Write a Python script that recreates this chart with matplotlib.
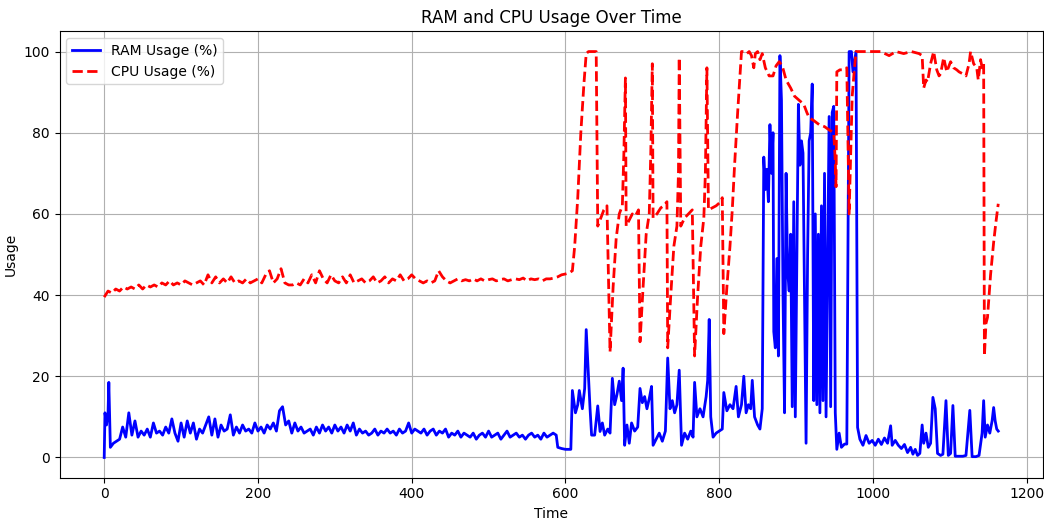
import numpy as np
import matplotlib
matplotlib.use("Agg")
import matplotlib.pyplot as plt

# RAM usage (%) - steady part, one sample every 4 s starting at t=12
ram_head_time = [0, 1, 3, 5, 6, 8]
ram_head = [0.0, 11.0, 8.0, 11.0, 18.5, 2.5]

ram_steady = [
    3.5, 4.0, 4.5, 7.5, 5.0, 11.0, 5.5, 9.0, 5.0, 6.5, 5.5, 7.0, 5.0, 8.5, 6.0,
    6.5, 5.5, 7.5, 6.0, 9.5, 6.0, 4.0, 8.5,
    5.0, 9.0, 6.0, 8.5, 4.5, 7.0, 6.0, 8.0, 10.0, 5.5, 9.5, 5.0, 8.0, 6.5, 7.0,
    10.5, 5.5, 7.5, 6.0, 8.0, 6.5, 7.0, 6.0, 8.5, 6.5, 7.5, 6.0, 8.0, 7.0, 8.5,
    6.5, 11.5, 12.5, 8.0, 9.0, 6.0, 8.5, 6.5, 7.5, 6.0, 6.5, 7.0, 5.5, 7.5, 6.0,
    8.0, 6.5, 7.5, 6.0, 8.0,
    6.5, 7.5, 6.0, 8.0, 6.5, 8.5, 5.5, 7.0, 6.0, 6.5, 5.5, 6.0, 7.0, 5.5, 6.5,
    6.0, 7.0, 6.0, 6.5, 5.5, 7.0, 6.0, 6.5, 8.5, 6.0, 7.0, 6.5, 6.0, 7.0, 5.5,
    6.5, 7.0, 5.5, 6.5, 6.0, 7.0, 5.0, 6.0, 5.5, 6.5, 5.0, 6.0, 5.5, 5.0, 6.0,
    4.5, 5.5, 6.0, 5.0, 6.5, 5.0, 5.5, 6.0, 4.5, 5.5, 6.5, 5.0, 5.5, 6.0, 5.0,
    5.5, 4.5, 5.5, 6.0, 5.0, 5.5, 4.5, 6.0, 5.0, 5.5, 6.0, 5.5,
]

# RAM usage (%) - busy part
ram_busy_time = [
    590, 595, 600, 607, 609, 613, 616, 618, 622, 625, 627, 630, 632, 634, 638,
    640, 642, 645, 648, 651, 655, 658, 661, 664, 667, 670, 673, 675, 677, 680,
    683, 686, 690, 694, 697, 700, 703, 706, 709, 712, 714, 718, 722, 726, 730,
    733, 736, 739, 742, 745, 748, 751, 755, 759, 763, 766, 768, 771, 775, 779,
    783, 785, 787, 789, 792, 796, 800, 804, 806, 810, 814, 818, 822, 825, 829,
    832, 835, 838, 841, 843, 846, 850, 853, 856, 858, 860, 862, 864, 866, 868,
    870, 871, 873, 875, 877, 879, 881, 883, 885, 887, 889, 891, 893, 895, 897,
    899, 901, 903, 905, 907, 909, 911, 913, 915, 917, 919, 921, 923, 925, 927,
    929, 931, 933, 935, 937, 939, 941, 943, 945, 947, 949, 951, 953, 956, 959,
    963, 966, 969, 972, 974, 978, 980, 983,
]
ram_busy = [
    2.5, 2.2, 2.0, 2.0, 16.5, 11.0, 13.0, 16.5, 12.0, 17.0, 31.5, 19.5, 12.0, 5.5, 5.5,
    9.0, 12.7, 6.4, 8.5, 5.5, 7.0, 6.0, 19.5, 13.0, 15.5, 18.8, 14.0, 22.0, 3.0, 8.0,
    3.5, 8.5, 6.5, 7.5, 17.0, 13.5, 15.0, 12.0, 14.5, 17.5, 3.0, 4.5, 6.0, 4.0, 6.5,
    24.5, 12.0, 14.0, 11.0, 13.0, 21.5, 3.0, 6.0, 4.5, 6.5, 5.0, 18.5, 10.0, 12.0, 10.0,
    15.0, 19.0, 34.0, 10.0, 5.0, 6.0, 6.5, 7.0, 16.0, 11.5, 13.0, 12.0, 17.5, 10.0, 13.0,
    20.0, 11.0, 13.0, 12.0, 19.0, 10.0, 8.0, 7.0, 12.0, 74.0, 66.0, 71.0, 63.0, 82.0, 70.0,
    80.0, 31.0, 27.0, 49.0, 25.0, 99.0, 88.0, 40.0, 11.0, 70.0, 46.0, 41.0, 55.0, 12.5, 63.0,
    10.0, 48.0, 87.0, 72.0, 78.0, 75.0, 40.0, 3.5, 50.0, 78.0, 80.0, 92.0, 14.0, 60.0, 13.0,
    55.0, 11.0, 62.0, 14.0, 70.0, 10.0, 48.0, 84.0, 12.5, 85.0, 86.5, 11.0, 2.0, 6.0, 2.5,
    3.3, 3.3, 100.0, 100.0, 95.0, 100.0, 7.4, 4.5,
]

# RAM usage (%) - tail
ram_tail_time = [
    987, 991, 995, 999, 1003, 1007, 1011, 1015, 1019, 1023, 1025, 1029, 1033,
    1037, 1041, 1045, 1049, 1052, 1055, 1058, 1061, 1064, 1066, 1069, 1072,
    1075, 1078, 1081, 1084, 1088, 1091, 1095, 1098, 1101, 1104, 1107, 1112,
    1117, 1121, 1126, 1129, 1134, 1138, 1142, 1144, 1146, 1149, 1152, 1155,
    1157, 1159, 1161, 1163,
]
ram_tail = [
    3.0, 5.4, 3.5, 4.2, 3.0, 4.5, 3.2, 4.8, 3.5, 7.8, 3.0, 4.2, 3.0,
    2.2, 3.2, 1.2, 2.5, 0.8, 2.0, 0.5, 1.0, 8.0, 3.5, 6.0, 2.5,
    3.5, 14.8, 12.0, 1.0, 0.5, 0.8, 14.0, 0.5, 1.0, 12.8, 0.3, 0.3,
    0.3, 0.5, 11.6, 0.2, 0.2, 0.5, 6.0, 14.0, 5.0, 8.0, 6.0, 9.0,
    12.3, 9.0, 7.0, 6.5,
]

# CPU usage (%) - steady part, one sample every 5 s
cpu_steady = [
    39.5, 41.0, 40.5, 41.5, 41.0, 42.0, 41.5, 42.0, 41.5, 42.5, 41.5, 42.5, 42.0,
    42.5, 42.0, 43.0, 42.5, 43.5, 42.5, 43.0, 42.5, 43.5, 43.0, 42.5, 43.0, 43.5,
    42.5, 45.0, 43.0, 44.5, 43.0, 44.0, 43.0, 44.5, 43.0, 43.5, 43.0, 44.0, 43.0,
    43.5, 44.0, 43.0, 45.0, 46.0, 43.0, 44.0, 46.5, 43.0, 42.5, 42.5, 43.0, 42.5,
    44.0, 43.0, 45.0, 43.0, 46.0, 44.0, 43.0, 45.0, 43.5, 43.0, 44.5, 43.0, 45.0,
    43.0, 43.5, 44.0, 43.0, 43.5, 44.5, 43.0, 43.5, 44.5, 43.0, 44.0, 43.5, 45.0,
    43.5, 44.0, 45.0, 44.0, 43.5, 43.0, 43.5, 43.0, 43.5, 46.0, 44.5, 43.5, 43.0,
    43.5, 44.0, 43.5, 43.8, 43.5, 44.0, 43.5, 44.0, 43.5, 43.8, 44.0, 43.5, 43.8,
    44.0, 43.5, 43.8, 44.0, 43.8, 44.2, 43.5, 44.0, 43.8, 44.0, 43.5, 44.0, 44.0,
    44.2, 44.5, 45.0, 45.2,
]

# CPU usage (%) - busy part and tail
cpu_busy_time = [
    605, 609, 612, 616, 620, 624, 627, 630, 635, 640, 642, 646, 650, 654, 658,
    662, 666, 670, 674, 676, 678, 679, 683, 687, 691, 695, 697, 701, 705, 709,
    711, 713, 714, 719, 724, 728, 732, 733, 737, 741, 745, 747, 748, 750, 755,
    760, 765, 768, 772, 776, 780, 782, 784, 786, 791, 796, 802, 804, 806, 810,
    814, 817, 820, 824, 829, 833, 836, 839, 842, 845, 847, 850, 853, 856, 860,
    865, 870, 874, 878, 882, 887, 893, 898, 904, 910, 914, 917, 923, 930, 937,
    943, 949, 951, 952, 953, 957, 961, 966, 969, 971, 973, 976, 978, 985, 1000,
    1010, 1021, 1030, 1040, 1050, 1060, 1064, 1066, 1069, 1071, 1075, 1079, 1083,
    1086, 1088, 1092, 1096, 1101, 1105, 1109, 1112, 1117, 1121, 1125, 1127, 1131,
    1135, 1137, 1140, 1142, 1144, 1145, 1147, 1149, 1153, 1157, 1160, 1163,
]
cpu_busy = [
    45.5, 46.0, 52.0, 64.0, 80.0, 92.0, 99.5, 100.0, 100.0, 100.0, 57.0, 59.0, 61.0, 62.0, 26.0,
    42.0, 54.0, 60.0, 62.0, 75.0, 93.5, 57.0, 58.5, 60.0, 59.5, 61.0, 28.5, 42.0, 55.0, 60.0,
    75.0, 97.0, 59.0, 60.0, 61.5, 62.0, 63.0, 27.0, 40.0, 52.0, 57.0, 70.0, 98.5, 57.0, 59.0,
    60.0, 61.0, 25.0, 40.0, 52.0, 59.0, 70.0, 96.0, 61.0, 61.5, 62.0, 63.0, 64.0, 30.5, 42.0,
    52.0, 61.0, 72.0, 85.0, 100.0, 100.0, 99.5, 100.0, 99.0, 96.0, 99.5, 100.0, 98.0, 99.5, 96.0,
    94.0, 94.0, 96.5, 97.5, 96.5, 93.0, 91.0, 89.0, 88.0, 87.0, 85.0, 83.7, 83.0, 82.0, 81.5,
    80.7, 80.0, 73.0, 66.7, 95.0, 95.5, 95.5, 96.0, 60.0, 75.0, 89.0, 96.0, 100.0, 100.0, 100.0,
    100.0, 99.0, 100.0, 99.5, 100.0, 99.5, 99.0, 91.0, 93.0, 92.5, 97.0, 100.0, 95.5,
    94.0, 94.5, 98.5, 95.0, 97.5, 96.0, 95.5, 95.0, 94.5, 94.0, 97.0, 100.0, 97.0,
    96.0, 93.0, 98.0, 96.0, 97.0, 25.0, 33.0, 34.5, 45.0, 53.0, 58.0, 62.5,
]

ram_time = np.concatenate([ram_head_time, 12 + 4 * np.arange(len(ram_steady)),
                           ram_busy_time, ram_tail_time])
ram_usage = np.concatenate([ram_head, ram_steady, ram_busy, ram_tail])
cpu_time = np.concatenate([5 * np.arange(len(cpu_steady)), cpu_busy_time])
cpu_usage = np.concatenate([cpu_steady, cpu_busy])

fig = plt.figure(figsize=(10.44, 5.21), dpi=100)
plt.plot(ram_time, ram_usage, color='blue', linewidth=2, label='RAM Usage (%)')
plt.plot(cpu_time, cpu_usage, color='red', linestyle='--', linewidth=2, label='CPU Usage (%)')
plt.title('RAM and CPU Usage Over Time')
plt.xlabel('Time')
plt.ylabel('Usage')
plt.grid(True)
plt.legend(loc='upper left')
plt.subplots_adjust(left=0.057, right=0.999, bottom=0.083, top=0.940)
plt.savefig('out.png', dpi=100)
